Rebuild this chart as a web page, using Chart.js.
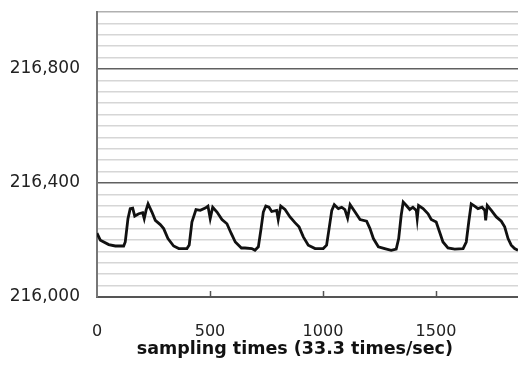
<!DOCTYPE html>
<html>
<head>
<meta charset="utf-8">
<script src="https://cdn.jsdelivr.net/npm/chart.js@4/dist/chart.umd.min.js"></script>
<style>
  html, body { margin: 0; padding: 0; background: #fff; overflow: hidden; }
  #wrap { width: 518px; height: 365px; }
</style>
</head>
<body>
<div id="wrap"><canvas id="chart1"></canvas></div>
<script>
/* -------- data -------- */
var sampleIdx = [0, 15, 52, 81, 118, 125, 137, 147, 158, 167, 185, 202, 209, 217, 226, 243, 258, 280, 295, 314,
  339, 362, 398, 408, 420, 438, 457, 479, 491, 501, 512, 531, 553, 575, 594, 612, 639,
  655, 685, 699, 714, 726, 736, 747, 761, 773, 795, 802, 813, 832, 854, 876, 894, 913, 935,
  965, 1001, 1016, 1027, 1039, 1050, 1068, 1083, 1097, 1109, 1120, 1142, 1164, 1193, 1208, 1223, 1245,
  1273, 1302, 1324, 1335, 1346, 1355, 1369, 1384, 1398, 1413, 1417, 1423, 1443, 1465, 1479, 1501, 1516, 1531, 1553,
  1583, 1620, 1634, 1645, 1656, 1671, 1686, 1704, 1716, 1720, 1727, 1745, 1767, 1789, 1804, 1819, 1833, 1848, 1863];

var reading = [216224, 216199, 216184, 216179, 216179, 216193, 216275, 216310, 216312, 216284, 216292, 216296, 216275, 216304, 216327, 216298, 216269, 216254, 216240, 216205,
  216179, 216170, 216170, 216182, 216263, 216307, 216304, 216312, 216319, 216275, 216315, 216298, 216272, 216257, 216223, 216193, 216172,
  216172, 216170, 216164, 216176, 216240, 216298, 216319, 216315, 216300, 216304, 216272, 216319, 216307, 216281, 216261, 216246, 216211, 216182,
  216170, 216170, 216182, 216240, 216304, 216324, 216310, 216315, 216307, 216277, 216324, 216298, 216272, 216266, 216240, 216205, 216176,
  216170, 216164, 216168, 216205, 216286, 216333, 216321, 216307, 216315, 216304, 216275, 216321, 216310, 216292, 216272, 216263, 216228, 216193, 216172,
  216168, 216170, 216193, 216263, 216327, 216319, 216310, 216315, 216304, 216269, 216321, 216304, 216281, 216266, 216246, 216205, 216182, 216170, 216164];

var xTicks = [0, 500, 1000, 1500];
var yLabels = [216000, 216400, 216800];
var xTitle = 'sampling times (33.3 times/sec)';

const X_MAX = 1863;
const Y_MIN = 216000, Y_MAX = 217000, Y_MINOR = 40;

var points = sampleIdx.map((x, i) => ({ x: x, y: reading[i] }));

/* small tick marks pointing up into the plot + the axis title,
   which in the original sits a bit left of the plot centre */
const axisExtras = {
  id: 'axisExtras',
  afterDraw(chart) {
    const c = chart.ctx, xs = chart.scales.x, area = chart.chartArea;
    c.save();
    c.strokeStyle = '#555';
    c.lineWidth = 1.5;
    xTicks.forEach(v => {
      if (v === 0) return;
      const px = Math.round(xs.getPixelForValue(v)) + 0.5;
      c.beginPath();
      c.moveTo(px, area.bottom - 6);
      c.lineTo(px, area.bottom);
      c.stroke();
    });
    c.fillStyle = '#111';
    c.font = 'bold 17.5px "DejaVu Sans"';
    c.textAlign = 'center';
    c.textBaseline = 'middle';
    c.fillText(xTitle, area.left + (area.right - area.left) * 0.47, area.bottom + 52);
    c.restore();
  }
};

const ctx1 = chart1.getContext('2d');

const config1 = {
  type: 'line',
  data: {
    datasets: [{
      data: points,
      borderColor: '#111',
      borderWidth: 2.8,
      pointRadius: 0,
      tension: 0,
      fill: false
    }]
  },
  options: {
    responsive: true,
    maintainAspectRatio: false,
    animation: false,
    layout: { padding: { top: 12, right: 0, left: 0, bottom: 0 } },
    scales: {
      x: {
        type: 'linear',
        min: 0,
        max: X_MAX,
        grid: { display: false, drawTicks: false },
        border: { display: true, color: '#555', width: 2 },
        afterBuildTicks(scale) { scale.ticks = xTicks.map(v => ({ value: v })); },
        ticks: {
          maxRotation: 0,
          autoSkip: false,
          padding: 25,
          color: '#222',
          font: { family: 'DejaVu Sans', size: 16 },
          callback: v => String(v)
        },
        afterFit(scale) {
          scale.height = 68;
          scale.paddingLeft = 0;
          scale.paddingRight = 0;
        }
      },
      y: {
        min: Y_MIN,
        max: Y_MAX,
        afterBuildTicks(scale) {
          const t = [];
          for (let v = Y_MIN; v <= Y_MAX; v += Y_MINOR) t.push({ value: v });
          scale.ticks = t;
        },
        grid: {
          drawTicks: false,
          color: c => {
            const v = c.tick ? c.tick.value : 0;
            if (v === Y_MAX) return '#b0b0b0';
            return yLabels.includes(v) ? '#606060' : '#d6d6d6';
          },
          lineWidth: c => (c.tick && yLabels.includes(c.tick.value)) ? 1.6 : 1.5
        },
        border: { display: true, color: '#777', width: 2 },
        ticks: {
          autoSkip: false,
          padding: 17,
          color: '#222',
          font: { family: 'DejaVu Sans', size: 17 },
          callback: v => yLabels.includes(v) ? v.toLocaleString('en-US') : ''
        },
        afterFit(scale) {
          scale.width = 97;
          scale.paddingTop = 0;
          scale.paddingBottom = 0;
        }
      }
    },
    plugins: {
      legend: { display: false },
      tooltip: { enabled: false }
    }
  },
  plugins: [axisExtras]
};

const myChart1 = new Chart(ctx1, config1);
</script>
</body>
</html>
